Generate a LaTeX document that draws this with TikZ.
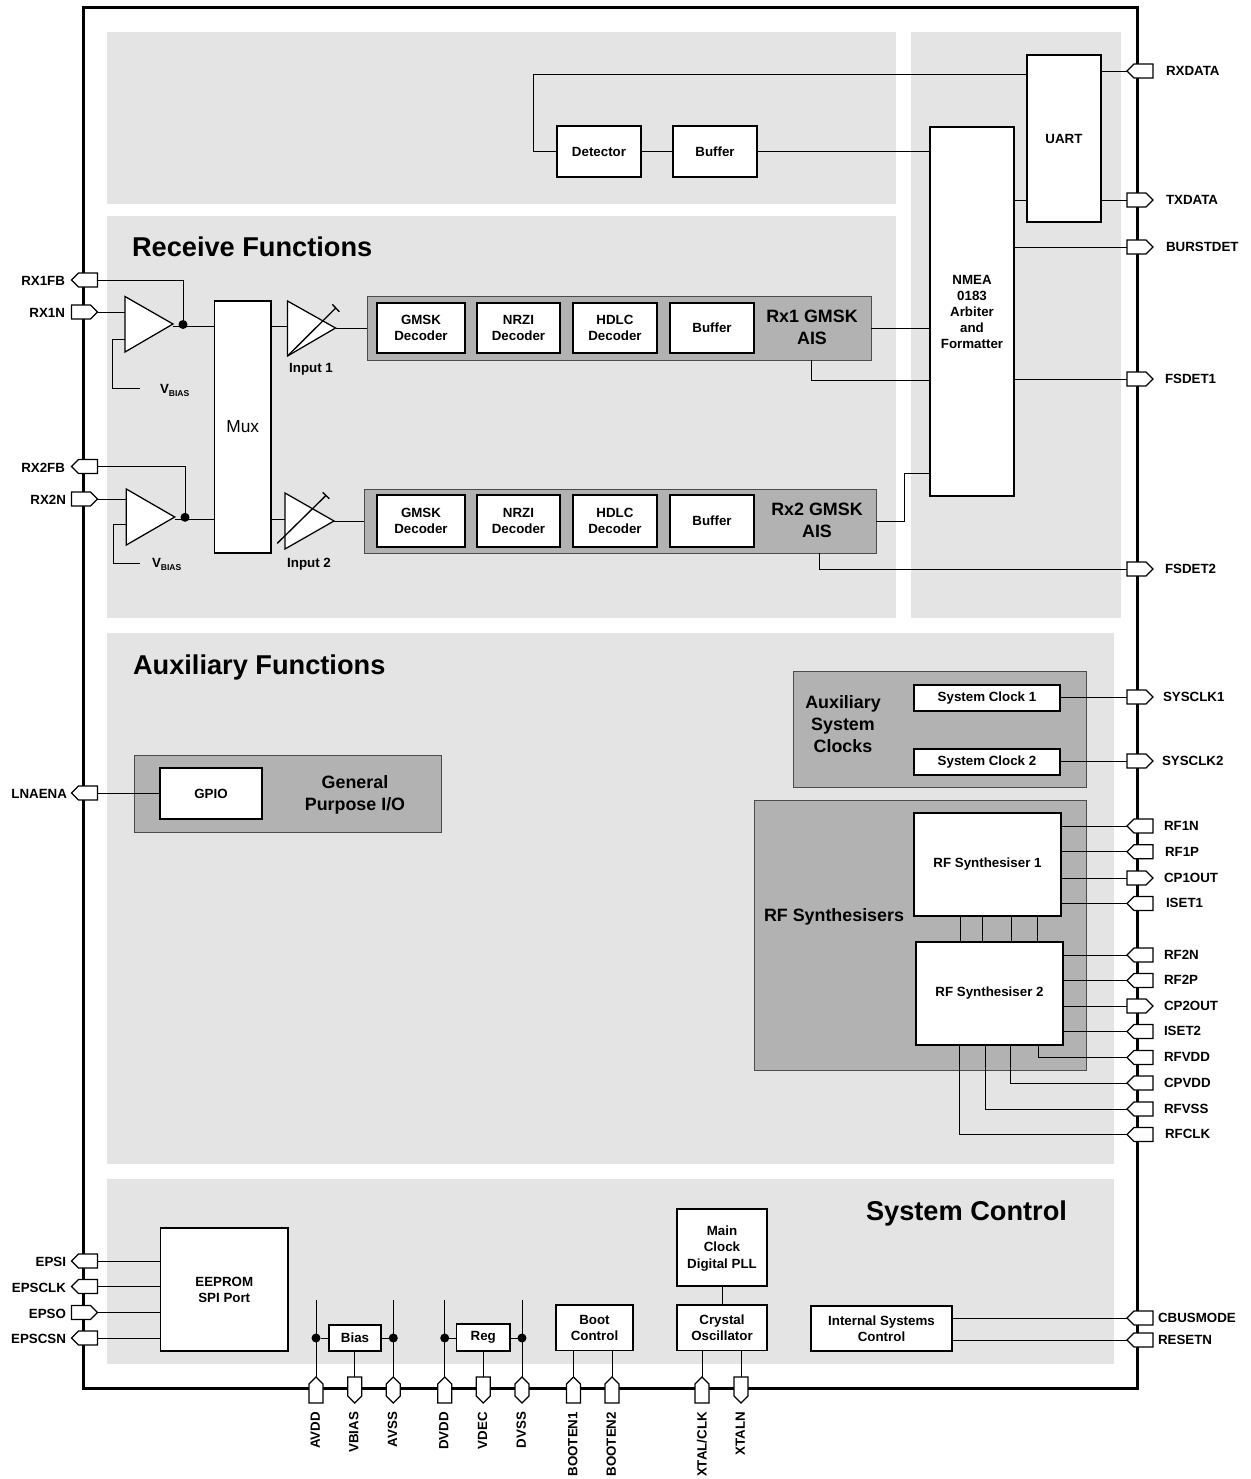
\documentclass[tikz,border=0pt]{standalone}
\usepackage{fontspec}
\setmainfont{Liberation Sans}
\usetikzlibrary{shapes.symbols}
\definecolor{panel}{HTML}{E4E4E4}
\definecolor{group}{HTML}{B2B2B2}
\tikzset{
  wire/.style={line width=0.75pt,black},
  blockbase/.style={draw=black,line width=0.95pt,fill=white,inner sep=0pt,outer sep=0pt,align=center,
     font=\fontsize{10}{12}\selectfont\bfseries},
  groupbox/.style={draw=black!70,line width=0.75pt,fill=group,inner sep=0pt,outer sep=0pt},
  panelbox/.style={draw=none,fill=panel,inner sep=0pt,outer sep=0pt},
  amp/.style={draw=black,line width=0.95pt,fill=white,line join=miter},
  pinbase/.style={shape=signal,draw=black,line width=0.95pt,fill=white,inner sep=0pt,outer sep=0pt,signal pointer angle=90},
  pinh/.style={pinbase,minimum width=19.5pt,minimum height=10.5pt},
  pinv/.style={pinbase,minimum width=10.5pt,minimum height=14.25pt},
  pinhex/.style={pinbase,minimum width=10.5pt,minimum height=9pt,signal to=north and south},
  lab/.style={inner sep=0pt,outer sep=0pt,font=\fontsize{10}{12}\selectfont\bfseries},
  grouptext/.style={inner sep=0pt,outer sep=0pt,align=center,font=\fontsize{13.4}{16.5}\selectfont\bfseries},
  heading/.style={inner sep=0pt,outer sep=0pt,font=\fontsize{20.4}{24}\selectfont\bfseries},
  junction/.style={circle,fill=black,draw=none,minimum size=6.75pt,inner sep=0pt,outer sep=0pt},
}
% \rect{style}{name}{x1}{y1}{x2}{y2}{text}
\newcommand{\rect}[7]{\node[#1,minimum width={(#5-#3)*0.75pt},minimum height={(#6-#4)*0.75pt}] (#2) at ({(#3+#5)/2},{(#4+#6)/2}) {#7};}
\begin{document}
\begin{tikzpicture}[x=0.75pt,y=-0.75pt]
\useasboundingbox (0,0) rectangle (1251,1479);
% panels
\rect{panelbox}{pa}{107}{32}{896}{204}{}
\rect{panelbox}{pb}{107}{216}{896}{618}{}
\rect{panelbox}{pc}{911}{32}{1121}{618}{}
\rect{panelbox}{pd}{107}{633}{1114}{1164}{}
\rect{panelbox}{pe}{107}{1179}{1114}{1364}{}
% chip outline
\draw[black,line width=2.25pt] (83,7) rectangle (1137,1388);
% headings
\node[heading,anchor=base west] (h1) at (132,256) {Receive Functions};
\node[heading,anchor=base west] (h2) at (133,674) {Auxiliary Functions};
\node[heading,anchor=base west] (h3) at (866,1220) {System Control};
% group boxes
\rect{groupbox}{rx1}{367}{296}{871}{360}{}
\rect{groupbox}{rx2}{364}{489}{876}{553}{}
\rect{groupbox}{gpiog}{134.5}{755}{441}{832}{}
\rect{groupbox}{clkg}{793}{671}{1086}{787}{}
\rect{groupbox}{rfg}{754}{800}{1086}{1070}{}
\node[grouptext] (rx1t) at (812,327) {Rx1 GMSK\\AIS};
\node[grouptext] (rx2t) at (817,520) {Rx2 GMSK\\AIS};
\node[grouptext] (gpiot) at (355,795) {General\\Purpose I/O};
\node[grouptext] (clkt) at (843,724) {Auxiliary\\System\\Clocks};
\node[grouptext] (rft) at (834,917) {RF Synthesisers};
% blocks
\rect{blockbase}{det}{557}{126}{641}{177}{Detector}
\rect{blockbase}{buf}{673}{126}{757}{177}{Buffer}
\rect{blockbase}{uart}{1027}{55}{1101}{222}{UART}
\rect{blockbase}{nmea}{930}{127}{1014}{496}{NMEA\\0183\\Arbiter\\and\\Formatter}
\rect{blockbase}{mux}{214.5}{301}{271}{553}{\fontsize{13}{15}\selectfont\mdseries Mux}
\rect{blockbase}{ga}{377}{303}{465}{353}{GMSK\\Decoder}
\rect{blockbase}{na}{477}{303}{560}{353}{NRZI\\Decoder}
\rect{blockbase}{ha}{573}{303}{657}{353}{HDLC\\Decoder}
\rect{blockbase}{ba}{670}{303}{754}{353}{Buffer}
\rect{blockbase}{gb}{377}{495}{465}{547}{GMSK\\Decoder}
\rect{blockbase}{nb}{477}{495}{560}{547}{NRZI\\Decoder}
\rect{blockbase}{hb}{573}{495}{657}{547}{HDLC\\Decoder}
\rect{blockbase}{bb}{670}{495}{754}{547}{Buffer}
\rect{blockbase}{gpio}{160}{768}{262}{819}{GPIO}
\rect{blockbase}{sc1}{914}{685}{1060}{711}{System Clock 1}
\rect{blockbase}{sc2}{914}{749}{1060}{775}{System Clock 2}
\rect{blockbase}{rf1}{914}{813}{1061}{916}{RF Synthesiser 1}
\rect{blockbase}{rf2}{916}{942}{1063}{1045}{RF Synthesiser 2}
\rect{blockbase}{eeprom}{160.5}{1228}{288}{1351}{EEPROM\\SPI Port}
\rect{blockbase}{bias}{329}{1325}{381}{1351}{Bias}
\rect{blockbase}{reg}{456.5}{1324}{510}{1351}{\raisebox{-1.2pt}{Reg}}
\rect{blockbase}{boot}{556}{1305}{633}{1350.5}{Boot\\Control}
\rect{blockbase}{xosc}{677}{1305}{767}{1350.5}{Crystal\\Oscillator}
\rect{blockbase}{mclk}{677}{1209}{767}{1286}{}
\node[lab,align=center] (mclkt) at (722,1248.5) {Main\\[0.4pt]Clock\\[0.4pt]Digital PLL};
\rect{blockbase}{isc}{811}{1306}{952}{1351}{Internal Systems\\Control}
% pins: right side
\foreach \n/\y/\d/\x in {RXDATA/71/west/1166,TXDATA/200/east/1166,BURSTDET/247/east/1166,FSDET1/379/east/1165,FSDET2/569/east/1165,SYSCLK1/697/east/1163,SYSCLK2/761/east/1162,RF1N/826/west/1164,RF1P/851.7/west/1165,CP1OUT/878/east/1164,ISET1/903.5/west/1166,RF2N/955/west/1164,RF2P/980.5/west/1164,CP2OUT/1006/east/1164,ISET2/1031.5/west/1164,RFVDD/1057.5/west/1164,CPVDD/1083/west/1164,RFVSS/1109/west/1164,RFCLK/1134.5/west/1165,CBUSMODE/1318/west/1158,RESETN/1340/west/1158}
  {\node[pinh,signal to=\d,anchor=west] (\n) at (1127,\y) {};
   \node[lab,anchor=base west] (\n-l) at (\x,\y+4.3) {\n};}
% pins: left side
\foreach \n/\y/\d/\x in {RX1FB/280/west/65,RX1N/312/east/65,RX2FB/466.5/west/65,RX2N/499/east/66,LNAENA/793/west/67,EPSI/1261/west/66,EPSCLK/1286.5/west/66,EPSO/1312.5/east/66,EPSCSN/1338/west/66}
  {\node[pinh,signal to=\d,anchor=east] (\n) at (97.5,\y) {};
   \node[lab,anchor=base east] (\n-l) at (\x,\y+5.5) {\n};}
% pins: bottom side
\foreach \n/\x/\d in {AVDD/316/north,VBIAS/354.7/south,DVDD/444.7/north,VDEC/483.3/south,BOOTEN1/573.5/north,BOOTEN2/612/north,XTALN/741/south}
  {\node[pinv,signal to=\d,anchor=north] (\n) at (\x,1377) {};
   \node[lab,rotate=90,anchor=east] (\n-l) at (\x-0.8,1412) {\n};}
\foreach \n/\x in {AVSS/393.3,DVSS/522}
  {\node[pinhex,anchor=north] (\n) at (\x,1377) {};
   \node[lab,rotate=90,anchor=east] (\n-l) at (\x-0.8,1412) {\n};}
\node[pinv,signal to=north,anchor=north] (XTALCLK) at (702,1377) {};
\node[lab,rotate=90,anchor=east] (XTALCLK-l) at (702,1412) {XTAL/CLK};
% top block
\draw[wire] (det.west) -- ++(-24,0) |- (uart.west |- 0,74);
\draw[wire] (det.east) -- (buf.west);
\draw[wire] (buf.east) -- (nmea.west |- buf.east);
\draw[wire] (uart.east |- RXDATA.west) -- (RXDATA.west);
\draw[wire] (uart.east |- TXDATA.west) -- (TXDATA.west);
\draw[wire] (nmea.east |- TXDATA.west) -- (uart.west |- TXDATA.west);
\draw[wire] (nmea.east |- BURSTDET.west) -- (BURSTDET.west);
\draw[wire] (nmea.east |- FSDET1.west) -- (FSDET1.west);
\draw[wire] (rx1.east |- 0,328) -- (nmea.west |- 0,328);
\draw[wire] (811,360) |- (nmea.west |- 0,380);
\draw[wire] (rx2.east |- 0,521) -- (904,521) |- (nmea.west |- 0,473);
\draw[wire] (819,553) |- (FSDET2.west);
% amplifiers
\coordinate (amp1i) at (125,312);
\coordinate (amp1b) at (125,339);
\coordinate (amp1o) at (173,324);
\coordinate (amp2i) at (126.3,499);
\coordinate (amp2b) at (126.3,524.5);
\coordinate (amp2o) at (174.7,517);
\coordinate (vb1) at (140,388.5);
\coordinate (vb2) at (140,563);
\node[junction] (d1) at (183,324.5) {};
\node[junction] (d2) at (185,517.3) {};
\draw[wire] (RX1N.east) -- (amp1i);
\draw[wire] (RX2N.east) -- (amp2i);
\draw[wire] (RX1FB.east) -| (d1.center);
\draw[wire] (RX2FB.east) -| (d2.center);
\draw[wire] (amp1b) -- (112,339) |- (vb1);
\draw[wire] (amp2b) -- (113.5,524.5) |- (vb2);
\draw[wire] (173,326) -- (mux.west |- 0,326);
\draw[wire] (175,519) -- (mux.west |- 0,519);
\draw[amp] (125,296.5) -- (125,352) -- (amp1o) -- cycle;
\draw[amp] (126.3,489) -- (126.3,545) -- (amp2o) -- cycle;
% variable gain stages
\coordinate (in1o) at (335.5,328);
\coordinate (in2o) at (334,521);
\draw[wire] (mux.east |- 0,326) -- (287.5,326);
\draw[wire] (mux.east |- 0,519) -- (285,519);
\draw[wire] (in1o) -- (rx1.west |- in1o);
\draw[wire] (in2o) -- (rx2.west |- in2o);
\draw[amp] (287.5,301) -- (287.5,356) -- (in1o) -- cycle;
\draw[amp] (285,493) -- (285,549) -- (in2o) -- cycle;
\draw[wire,line width=1pt] (287.5,356) -- (335.5,308.3) (332.3,304.3) -- (339.3,311.7);
\draw[wire,line width=1pt] (277.3,543.3) -- (325.8,495.6) (322.7,492.3) -- (329.3,498.7);
\node[lab] (i1) at (311,369) {Input 1};
\node[lab] (i2) at (309,564) {Input 2};
\node[lab,anchor=base west] (vbt1) at (160,393.5) {V\raisebox{-2pt}{\fontsize{6.4}{7}\selectfont BIAS}};
\node[lab,anchor=base west] (vbt2) at (152,567.5) {V\raisebox{-2pt}{\fontsize{6.4}{7}\selectfont BIAS}};
% auxiliary
\draw[wire] (LNAENA.east) -- (gpio.west |- LNAENA.east);
\draw[wire] (sc1.east |- SYSCLK1.west) -- (SYSCLK1.west);
\draw[wire] (sc2.east |- SYSCLK2.west) -- (SYSCLK2.west);
\foreach \n in {RF1N,RF1P,CP1OUT,ISET1} {\draw[wire] (rf1.east |- \n.west) -- (\n.west);}
\foreach \n in {RF2N,RF2P,CP2OUT,ISET2} {\draw[wire] (rf2.east |- \n.west) -- (\n.west);}
\foreach \x in {960,982.5,1011.5,1037} {\draw[wire] (\x,916) -- (\x,942);}
\draw[wire] (1038,1045) |- (RFVDD.west);
\draw[wire] (1010.3,1045) |- (CPVDD.west);
\draw[wire] (985.5,1045) |- (RFVSS.west);
\draw[wire] (959.7,1045) |- (RFCLK.west);
% system control
\foreach \n in {EPSI,EPSCLK,EPSO,EPSCSN} {\draw[wire] (\n.east) -- (eeprom.west |- \n.east);}
\foreach \n in {CBUSMODE,RESETN} {\draw[wire] (isc.east |- \n.west) -- (\n.west);}
\foreach \m in {AVDD,AVSS,DVDD,DVSS} {\node[junction] (\m-j) at (\m.north |- 0,1338) {};
  \draw[wire] (\m.north) -- (\m.north |- 0,1299.5);}
\draw[wire] (AVDD-j) -- (bias.west |- AVDD-j);
\draw[wire] (bias.east |- AVSS-j) -- (AVSS-j);
\draw[wire] (DVDD-j) -- (reg.west |- DVDD-j);
\draw[wire] (reg.east |- DVSS-j) -- (DVSS-j);
\draw[wire] (VBIAS.north) -- (bias.south -| VBIAS.north);
\draw[wire] (VDEC.north) -- (reg.south -| VDEC.north);
\draw[wire] (BOOTEN1.north) -- (boot.south -| BOOTEN1.north);
\draw[wire] (BOOTEN2.north) -- (boot.south -| BOOTEN2.north);
\draw[wire] (XTALCLK.north) -- (xosc.south -| XTALCLK.north);
\draw[wire] (XTALN.north) -- (xosc.south -| XTALN.north);
\draw[wire] (xosc.north) -- (mclk.south);
\end{tikzpicture}
\end{document}
